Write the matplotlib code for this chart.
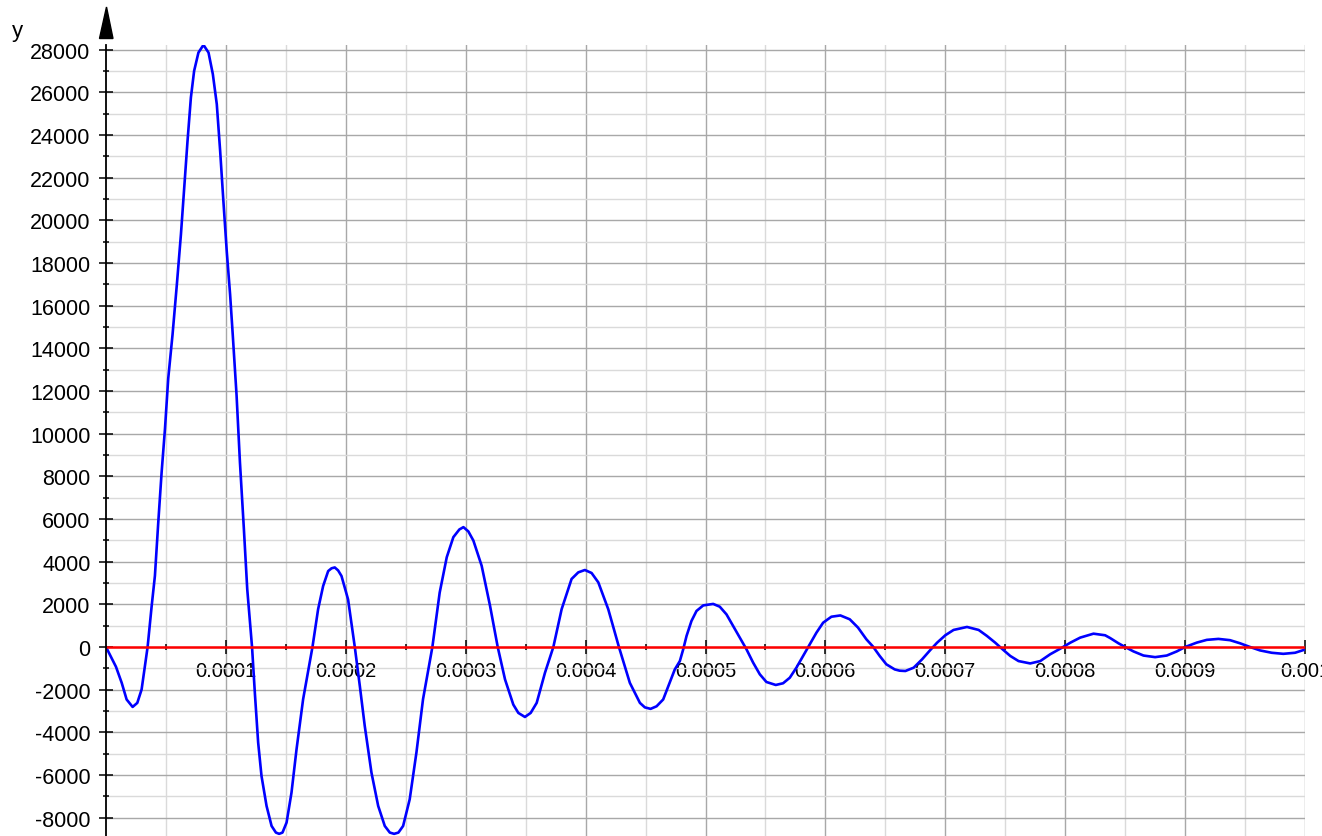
import numpy as np
import matplotlib
matplotlib.use("Agg")
import matplotlib.pyplot as plt
from matplotlib.patches import Polygon
from matplotlib.ticker import FixedLocator, FuncFormatter

plt.rcParams['font.family'] = ['Liberation Sans', 'DejaVu Sans']
plt.rcParams['axes.unicode_minus'] = False

# time in microseconds
t_us = [0, 8.3, 13.1, 17.2, 22.2, 26.1, 29.7, 32.5, 34.7, 38.1, 40.8, 43.6,
        46.4, 49.2, 51.9, 55.5, 59.1, 62.5, 65.5, 68.0, 70.8, 73.5, 77.1,
        81.3, 85.5, 89.1, 92.4, 95.2, 97.9, 100.7, 103.5, 105.7, 108.9,
        111.7, 115.0, 117.8, 121.8, 124.2, 126.9, 129.7, 133.9, 138.1,
        141.7, 144.4, 147.2, 150.6, 154.7, 158.9, 164.4, 172.2, 176.9,
        181.1, 185.3, 188.1, 190.8, 193.6, 196.4, 201.9, 207.5, 211.7,
        215.8, 221.4, 227.0, 232.5, 236.7, 240.3, 243.9, 247.8, 253.3,
        258.9, 264.4, 272.2, 278.3, 284.2, 289.7, 294.7, 298.1, 302.2,
        306.4, 313.3, 320.3, 326.7, 332.8, 339.7, 343.9, 349.4, 354.2,
        359.2, 366.1, 373.1, 380.0, 388.3, 393.9, 399.4, 405.0, 410.6,
        418.9, 427.8, 436.9, 445.3, 449.4, 454.2, 459.2, 464.7, 474.4,
        478.6, 481.4, 484.2, 488.3, 492.5, 498.1, 506.4, 511.9, 517.5,
        523.1, 528.6, 534.2, 539.7, 545.3, 550.8, 558.6, 564.7, 570.3,
        575.8, 581.4, 587.0, 592.5, 598.1, 605.0, 612.5, 620.3, 627.2,
        634.2, 639.7, 645.3, 650.8, 657.8, 661.9,
        666.7, 673.6, 680.6, 687.5, 693.1, 700.0, 706.9, 718.1, 727.8,
        734.7, 741.7, 747.2, 754.2, 761.1, 770.8, 779.2, 787.5, 795.8,
        804.2, 812.5, 823.6, 833.3, 837.5,
        844.4, 850.0, 856.9, 865.3, 875.0, 884.7, 893.1, 900.0, 909.7,
        918.1, 927.8, 937.5, 945.8, 954.2, 962.5, 972.2, 981.9, 991.7,
        1000]
y_vals = [0, -925, -1680, -2460, -2810, -2620, -1990, -890, 0, 1930, 3340,
          5850, 8200, 10240, 12590, 14650, 17000, 19350, 21700, 23730,
          25760, 27010, 27870, 28230, 27870, 26860, 25450, 23260, 20910,
          18560, 16530, 14650, 11800, 8670, 5530, 2710, 0, -2200, -4480,
          -6050, -7450, -8390,
          -8700, -8760, -8700, -8230, -6830, -4800, -2450, 0, 1770,
          2860, 3560, 3690, 3730, 3590, 3330, 2230, 0, -1830,
          -3700, -5890, -7450, -8390, -8700, -8760, -8700, -8390, -7140,
          -4950, -2450, 0, 2550, 4210, 5150, 5510, 5620, 5420,
          4990, 3810, 1930, 0, -1520, -2700, -3090, -3280, -3090,
          -2620, -1210, 0, 1770, 3190, 3500, 3610, 3470, 3030,
          1770, 0, -1680, -2620, -2830, -2900, -2780, -2460, -1050,
          -660, -110, 520, 1220, 1690, 1950, 2020, 1890, 1530,
          980, 440, -110, -730, -1280, -1640, -1780, -1700, -1440,
          -970, -420, 130, 670, 1140, 1420, 1480, 1300, 910,
          360, 20, -420, -810, -1050, -1110,
          -1125, -970, -580, -140, 200, 550, 800, 940, 800,
          520, 200, -80, -420, -660, -770, -660, -340, -80,
          200, 440, 625, 550, 420,
          175, 0, -205, -400, -475, -400, -205, 0, 205,
          335, 380, 320, 175, 0, -160, -270, -320, -270,
          -120]

x_major = [0.0001, 0.0002, 0.0003, 0.0004, 0.0005, 0.0006, 0.0007, 0.0008, 0.0009, 0.001]
x_labels = ['0.0001', '0.0002', '0.0003', '0.0004', '0.0005', '0.0006', '0.0007', '0.0008', '0.0009', '0.001']
y_major = list(range(-8000, 28001, 2000))

t = np.array(t_us) * 1e-6

W, H = 1322, 837
fig = plt.figure(figsize=(W / 100, H / 100), dpi=100)
ax = fig.add_axes([106 / W, 0, (1305 - 106) / W, (837 - 46) / H])

ax.plot(t, y_vals, color='#0000ff', lw=1.9, zorder=3, solid_joinstyle='round')
ax.axhline(0, color='#ff0000', lw=1.8, zorder=4)

ax.set_xlim(0, 0.001)
ax.set_ylim(-8861, 28225)

ax.xaxis.set_major_locator(FixedLocator(x_major))
ax.xaxis.set_minor_locator(FixedLocator([0.00005 + 0.0001 * i for i in range(10)]))
ax.set_xticklabels(x_labels)
ax.yaxis.set_major_locator(FixedLocator(y_major))
ax.yaxis.set_minor_locator(FixedLocator(list(range(-7000, 28000, 2000))))
ax.yaxis.set_major_formatter(FuncFormatter(lambda v, p: '%d' % v))

for s in ['top', 'right']:
    ax.spines[s].set_visible(False)
ax.spines['bottom'].set_position(('data', 0))
ax.spines['bottom'].set_visible(False)
ax.spines['left'].set_linewidth(1.3)
ax.spines['left'].set_zorder(5)

ax.tick_params(axis='y', which='major', direction='inout', length=9.4, width=1.1, pad=6.5, labelsize=15.5)
ax.tick_params(axis='y', which='minor', direction='inout', length=5, width=1.1)
ax.tick_params(axis='x', which='major', direction='inout', length=10.5, width=1.1, pad=5, labelsize=14.5)
ax.tick_params(axis='x', which='minor', direction='inout', length=4.5, width=1.1)

ax.grid(which='major', color='#a8a8a8', lw=1.0, zorder=0)
ax.grid(which='minor', color='#dadada', lw=1.0, zorder=0)
ax.set_axisbelow(True)

# arrow on top of the y axis
arrow = Polygon([(99.5 / W, 1 - 39.5 / H), (113 / W, 1 - 39.5 / H), (106.5 / W, 1 - 8 / H)],
                closed=True, color='black', transform=fig.transFigure)
fig.add_artist(arrow)
fig.text(17 / W, 1 - 32 / H, 'y', fontsize=16, ha='center', va='center')

fig.savefig('out.png', dpi=100)
